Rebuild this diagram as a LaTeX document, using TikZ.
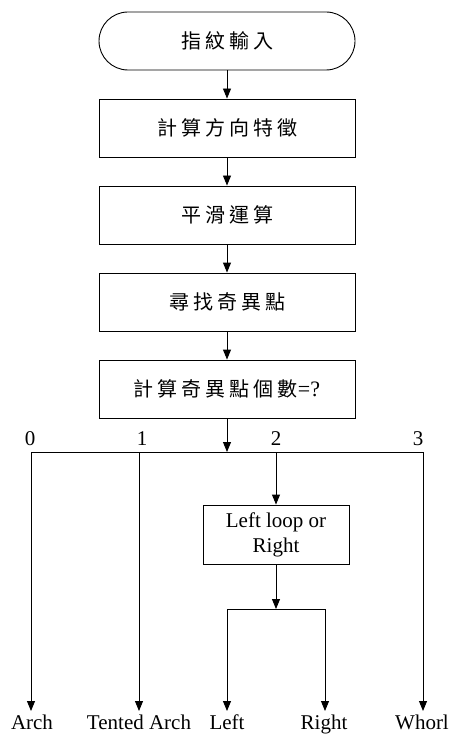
\documentclass[tikz,border=0pt]{standalone}
\usepackage{fontspec}
\setmainfont{Liberation Serif}
\newfontfamily\cjk{Noto Sans CJK TC}
\usetikzlibrary{arrows.meta}
\newcommand\gp{\hspace{4pt}}
\begin{document}
\begin{tikzpicture}[x=1pt,y=-1pt,
  line width=0.9pt,
  proc/.style={draw,minimum width=256pt,minimum height=58pt,inner sep=0pt,font=\fontsize{20}{24}\selectfont\cjk},
  term/.style={proc,rounded corners=29pt},
  small/.style={draw,minimum width=146pt,minimum height=59pt,inner sep=0pt,align=center,font=\fontsize{21}{25}\selectfont},
  lbl/.style={inner sep=0pt,font=\fontsize{21}{25}\selectfont},
  arr/.style={-{Triangle[length=10pt,width=8pt]}}]
\useasboundingbox (0,0) rectangle (449,735);
\node[term] (s) at (227,41) {指\gp 紋\gp 輸\gp 入};
\node[proc] (b1) at (227,128) {計\gp 算\gp 方\gp 向\gp 特\gp 徵};
\node[proc] (b2) at (227,215) {平\gp 滑\gp 運\gp 算};
\node[proc] (b3) at (227,302) {尋\gp 找\gp 奇\gp 異\gp 點};
\node[proc] (b4) at (227,389) {計\gp 算\gp 奇\gp 異\gp 點\gp 個\gp 數{\rmfamily\fontsize{22}{24}\selectfont=?}};
\coordinate (j) at (227,452);
\coordinate (h0) at (31,452);
\coordinate (h1) at (139,452);
\coordinate (h2) at (276,452);
\coordinate (h3) at (423,452);
\node[lbl] (l0) at (30,439) {0};
\node[lbl] (l1) at (142,439) {1};
\node[lbl] (l2) at (276,439) {2};
\node[lbl] (l3) at (418,439) {3};
\node[small] (b5) at (276,534.5) {Left loop or\\Right};
\coordinate (k) at (276,609);
\coordinate (kl) at (227,609);
\coordinate (kr) at (325,609);
\coordinate (e0) at (31,711);
\coordinate (e1) at (139,711);
\coordinate (e2) at (227,711);
\coordinate (e3) at (325,711);
\coordinate (e4) at (423,711);
\node[lbl,anchor=north] (t0) at (32,714.5) {Arch};
\node[lbl,anchor=north] (t1) at (139,714.5) {Tented Arch};
\node[lbl,anchor=north] (t2) at (227,714.5) {Left};
\node[lbl,anchor=north] (t3) at (324,714.5) {Right};
\node[lbl,anchor=north] (t4) at (422,714.5) {Whorl};
\draw[arr] (s) -- (b1);
\draw[arr] (b1) -- (b2);
\draw[arr] (b2) -- (b3);
\draw[arr] (b3) -- (b4);
\draw[arr] (b4) -- (j);
\draw (h0) -- (h3);
\draw[arr] (h0) -- (e0);
\draw[arr] (h1) -- (e1);
\draw[arr] (h3) -- (e4);
\draw[arr] (h2) -- (b5);
\draw[arr] (b5) -- (k);
\draw (kl) -- (kr);
\draw[arr] (kl) -- (e2);
\draw[arr] (kr) -- (e3);
\end{tikzpicture}
\end{document}
